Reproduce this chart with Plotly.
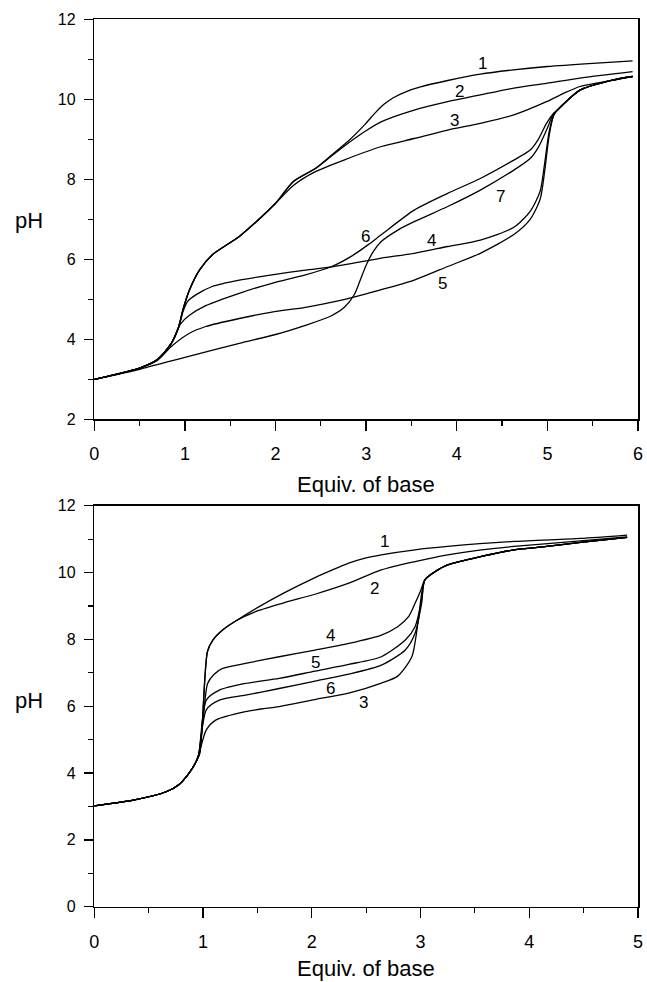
import plotly.graph_objects as go

# ---------------- Top panel data (Equiv. of base vs pH) ----------------
t1_x = [0, 0.25, 0.5, 0.7, 0.85, 0.93, 0.98, 1.05, 1.16, 1.3, 1.6, 1.85, 2.0, 2.2, 2.44, 2.6, 2.8, 2.99, 3.1, 3.2, 3.3, 3.45, 3.6, 3.9, 4.26, 4.6, 5.0, 5.5, 5.94]
t1_y = [3.0, 3.13, 3.28, 3.5, 3.9, 4.3, 4.75, 5.23, 5.73, 6.11, 6.57, 7.07, 7.4, 7.95, 8.27, 8.57, 8.95, 9.38, 9.66, 9.88, 10.04, 10.2, 10.31, 10.47, 10.63, 10.73, 10.82, 10.9, 10.96]

t2_x = [0, 0.25, 0.5, 0.7, 0.85, 0.93, 0.98, 1.05, 1.16, 1.3, 1.6, 1.85, 2.0, 2.2, 2.44, 2.6, 2.8, 2.99, 3.17, 3.53, 3.9, 4.26, 4.63, 4.99, 5.36, 5.94]
t2_y = [3.0, 3.13, 3.28, 3.5, 3.9, 4.3, 4.75, 5.23, 5.73, 6.11, 6.57, 7.07, 7.4, 7.95, 8.27, 8.55, 8.9, 9.2, 9.44, 9.73, 9.94, 10.11, 10.28, 10.4, 10.53, 10.69]

t3_x = [0, 0.25, 0.5, 0.7, 0.85, 0.93, 0.98, 1.05, 1.16, 1.3, 1.6, 1.85, 2.0, 2.2, 2.44, 2.8, 3.17, 3.53, 3.9, 4.26, 4.63, 4.99, 5.18, 5.36, 5.72, 5.94]
t3_y = [3.0, 3.13, 3.28, 3.5, 3.9, 4.3, 4.75, 5.23, 5.73, 6.11, 6.57, 7.07, 7.4, 7.85, 8.19, 8.52, 8.82, 9.02, 9.23, 9.4, 9.61, 9.94, 10.15, 10.32, 10.48, 10.57]

t4_x = [0, 0.25, 0.5, 0.7, 0.85, 0.93, 0.98, 1.03, 1.12, 1.3, 1.6, 1.96, 2.33, 2.62, 3.0, 3.17, 3.53, 3.9, 4.26, 4.63, 4.81, 4.92, 4.97, 5.02, 5.07, 5.11, 5.36, 5.72, 5.94]
t4_y = [3.0, 3.13, 3.28, 3.5, 3.9, 4.3, 4.7, 4.95, 5.11, 5.32, 5.48, 5.61, 5.73, 5.81, 5.96, 6.03, 6.15, 6.32, 6.48, 6.8, 7.2, 7.7, 8.4, 9.2, 9.6, 9.73, 10.23, 10.48, 10.57]

t5_x = [0, 0.25, 0.5, 0.7, 0.85, 1.05, 1.23, 1.6, 1.96, 2.33, 2.69, 3.02, 3.53, 3.9, 4.26, 4.63, 4.81, 4.92, 4.97, 5.02, 5.07, 5.11, 5.36, 5.72, 5.94]
t5_y = [3.0, 3.13, 3.28, 3.48, 3.82, 4.15, 4.32, 4.52, 4.68, 4.8, 4.96, 5.15, 5.48, 5.82, 6.15, 6.62, 7.0, 7.5, 8.2, 9.1, 9.6, 9.73, 10.23, 10.48, 10.57]

t6_x = [0, 0.25, 0.5, 0.7, 0.85, 0.95, 1.05, 1.23, 1.6, 1.96, 2.33, 2.62, 2.84, 3.02, 3.17, 3.53, 3.9, 4.26, 4.63, 4.81, 4.9, 4.99, 5.07, 5.11, 5.36, 5.72, 5.94]
t6_y = [3.0, 3.13, 3.28, 3.5, 3.9, 4.38, 4.6, 4.84, 5.15, 5.4, 5.61, 5.82, 6.08, 6.36, 6.62, 7.23, 7.65, 8.02, 8.48, 8.73, 9.0, 9.4, 9.65, 9.73, 10.23, 10.48, 10.57]

t7_x = [0, 0.25, 0.5, 1.0, 1.6, 2.0, 2.33, 2.6, 2.76, 2.87, 2.93, 3.0, 3.08, 3.17, 3.35, 3.53, 3.9, 4.26, 4.63, 4.81, 4.9, 4.99, 5.07, 5.11, 5.36, 5.72, 5.94]
t7_y = [3.0, 3.12, 3.25, 3.55, 3.9, 4.12, 4.35, 4.57, 4.8, 5.12, 5.45, 5.85, 6.2, 6.45, 6.73, 6.94, 7.32, 7.73, 8.23, 8.52, 8.8, 9.23, 9.65, 9.73, 10.23, 10.48, 10.57]

top_label_text = ["1", "2", "3", "4", "5", "6", "7"]
top_label_x = [4.28, 4.03, 3.97, 3.72, 3.84, 2.99, 4.48]
top_label_y = [10.9, 10.19, 9.48, 6.48, 5.4, 6.57, 7.57]

# ---------------- Bottom panel data ----------------
b1_x = [0, 0.36, 0.66, 0.78, 0.87, 0.93, 0.97, 1.04, 1.09, 1.18, 1.3, 1.5, 1.75, 2.03, 2.19, 2.34, 2.49, 2.64, 2.95, 3.25, 3.86, 4.47, 4.9]
b1_y = [3.02, 3.19, 3.44, 3.66, 3.99, 4.3, 4.6, 7.63, 7.98, 8.28, 8.55, 8.95, 9.4, 9.85, 10.08, 10.28, 10.43, 10.53, 10.68, 10.78, 10.93, 11.02, 11.12]

b2_x = [0, 0.36, 0.66, 0.78, 0.87, 0.93, 0.97, 1.04, 1.09, 1.18, 1.3, 1.5, 1.75, 2.03, 2.34, 2.64, 2.95, 3.25, 3.56, 3.86, 4.47, 4.9]
b2_y = [3.02, 3.19, 3.44, 3.66, 3.99, 4.3, 4.6, 7.63, 7.98, 8.28, 8.55, 8.85, 9.1, 9.35, 9.68, 10.08, 10.33, 10.53, 10.68, 10.78, 10.95, 11.07]

b3_x = [0, 0.36, 0.66, 0.78, 0.87, 0.93, 0.96, 1.03, 1.12, 1.39, 1.7, 2.03, 2.34, 2.64, 2.79, 2.92, 2.98, 3.04, 3.16, 3.25, 3.56, 3.86, 4.16, 4.47, 4.9]
b3_y = [3.02, 3.19, 3.44, 3.66, 3.99, 4.3, 4.55, 5.29, 5.59, 5.84, 5.99, 6.2, 6.39, 6.69, 6.9, 7.48, 8.58, 9.78, 10.08, 10.23, 10.48, 10.68, 10.78, 10.9, 11.05]

b4_x = [0, 0.36, 0.66, 0.78, 0.87, 0.93, 0.96, 1.0, 1.042, 1.1, 1.18, 1.39, 1.7, 2.03, 2.34, 2.64, 2.79, 2.89, 2.95, 3.0, 3.04, 3.16, 3.25, 3.56, 3.86, 4.16, 4.47, 4.9]
b4_y = [3.02, 3.19, 3.44, 3.66, 3.99, 4.3, 4.55, 5.6, 6.68, 6.95, 7.13, 7.28, 7.48, 7.68, 7.88, 8.13, 8.38, 8.68, 9.08, 9.45, 9.78, 10.08, 10.23, 10.48, 10.68, 10.78, 10.9, 11.05]

b5_x = [0, 0.36, 0.66, 0.78, 0.87, 0.93, 0.96, 1.03, 1.15, 1.39, 1.7, 2.03, 2.34, 2.64, 2.86, 2.95, 3.01, 3.04, 3.16, 3.25, 3.56, 3.86, 4.16, 4.47, 4.9]
b5_y = [3.02, 3.19, 3.44, 3.66, 3.99, 4.3, 4.55, 6.18, 6.48, 6.68, 6.83, 7.05, 7.25, 7.48, 7.98, 8.38, 9.18, 9.78, 10.08, 10.23, 10.48, 10.68, 10.78, 10.9, 11.05]

b6_x = [0, 0.36, 0.66, 0.78, 0.87, 0.93, 0.96, 1.03, 1.15, 1.39, 1.7, 2.03, 2.34, 2.64, 2.86, 2.95, 3.01, 3.04, 3.16, 3.25, 3.56, 3.86, 4.16, 4.47, 4.9]
b6_y = [3.02, 3.19, 3.44, 3.66, 3.99, 4.3, 4.55, 5.89, 6.18, 6.33, 6.53, 6.75, 6.96, 7.23, 7.68, 8.18, 9.08, 9.78, 10.08, 10.23, 10.48, 10.68, 10.78, 10.9, 11.05]

bottom_label_text = ["1", "2", "3", "4", "5", "6"]
bottom_label_x = [2.67, 2.58, 2.48, 2.17, 2.03, 2.17]
bottom_label_y = [10.92, 9.53, 6.11, 8.13, 7.3, 6.54]

x_title = "Equiv. of base"
y_title = "pH"

# ---------------- Figure ----------------
W, H = 647, 982
FONT = "Liberation Sans, Arial, Helvetica, sans-serif"
line_style = dict(color="black", width=1.3, shape="spline", smoothing=0.7)

fig = go.Figure()
for xs, ys in [(t1_x, t1_y), (t2_x, t2_y), (t3_x, t3_y), (t4_x, t4_y),
               (t5_x, t5_y), (t6_x, t6_y), (t7_x, t7_y)]:
    fig.add_trace(go.Scatter(x=xs, y=ys, mode="lines", line=line_style,
                             xaxis="x", yaxis="y", showlegend=False, hoverinfo="skip"))
for xs, ys in [(b1_x, b1_y), (b2_x, b2_y), (b3_x, b3_y), (b4_x, b4_y),
               (b5_x, b5_y), (b6_x, b6_y)]:
    fig.add_trace(go.Scatter(x=xs, y=ys, mode="lines", line=line_style,
                             xaxis="x2", yaxis="y2", showlegend=False, hoverinfo="skip"))

x_dom = [94.3 / W, 638 / W]
top_dom = [(H - 419.3) / H, (H - 19.3) / H]
bot_dom = [(H - 906.7) / H, (H - 505.7) / H]


def xaxis(rng, anchor):
    return dict(domain=x_dom, range=rng, anchor=anchor, dtick=1, tick0=0,
                ticks="outside", ticklen=10, tickwidth=1.3, tickcolor="black",
                showline=True, linewidth=1.5, linecolor="black", mirror=True,
                showgrid=False, zeroline=False, ticklabelstandoff=8,
                ticklabeloverflow="allow", automargin=False, fixedrange=True,
                tickfont=dict(family=FONT, size=18, color="black"),
                minor=dict(dtick=0.5, tick0=0, ticks="outside", ticklen=5,
                           tickwidth=1.2, tickcolor="black", showgrid=False))


def yaxis(rng, anchor, dom):
    return dict(domain=dom, range=rng, anchor=anchor, dtick=2, tick0=0,
                ticks="outside", ticklen=9, tickwidth=1.3, tickcolor="black",
                showline=True, linewidth=1.5, linecolor="black", mirror=True,
                showgrid=False, zeroline=False, ticklabelstandoff=5,
                ticklabeloverflow="allow", automargin=False, fixedrange=True,
                tickfont=dict(family=FONT, size=16, color="black"),
                minor=dict(dtick=1, tick0=0, ticks="outside", ticklen=5,
                           tickwidth=1.2, tickcolor="black", showgrid=False))


annotations = []
for t, lx, ly in zip(top_label_text, top_label_x, top_label_y):
    annotations.append(dict(text=t, x=lx, y=ly, xref="x", yref="y", showarrow=False,
                            font=dict(family=FONT, size=17, color="black")))
for t, lx, ly in zip(bottom_label_text, bottom_label_x, bottom_label_y):
    annotations.append(dict(text=t, x=lx, y=ly, xref="x2", yref="y2", showarrow=False,
                            font=dict(family=FONT, size=17, color="black")))

xc = (x_dom[0] + x_dom[1]) / 2
annotations += [
    dict(text=x_title, x=xc, y=(H - 484) / H, xref="paper", yref="paper", showarrow=False,
         xanchor="center", yanchor="middle", font=dict(family=FONT, size=22, color="black")),
    dict(text=x_title, x=xc, y=(H - 968) / H, xref="paper", yref="paper", showarrow=False,
         xanchor="center", yanchor="middle", font=dict(family=FONT, size=22, color="black")),
    dict(text=y_title, x=29 / W, y=(H - 220) / H, xref="paper", yref="paper", showarrow=False,
         xanchor="center", yanchor="middle", font=dict(family=FONT, size=22, color="black")),
    dict(text=y_title, x=29 / W, y=(H - 700) / H, xref="paper", yref="paper", showarrow=False,
         xanchor="center", yanchor="middle", font=dict(family=FONT, size=22, color="black")),
]

fig.update_layout(
    width=W, height=H,
    margin=dict(l=0, r=0, t=0, b=0, autoexpand=False),
    paper_bgcolor="white", plot_bgcolor="white",
    xaxis=xaxis([0, 6], "y"),
    yaxis=yaxis([2, 12], "x", top_dom),
    xaxis2=xaxis([0, 5], "y2"),
    yaxis2=yaxis([0, 12], "x2", bot_dom),
    annotations=annotations,
    font=dict(family=FONT, color="black"),
)

fig.write_html(
    "out.html",
    config={"displayModeBar": False, "staticPlot": True},
    post_script="document.body.style.margin='0';document.body.style.overflow='hidden';",
)
